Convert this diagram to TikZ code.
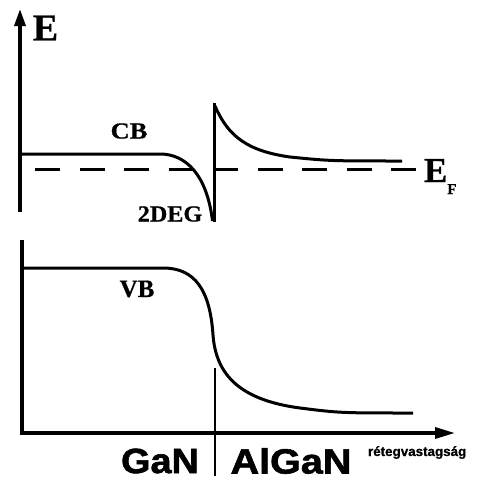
\documentclass[tikz,border=0pt]{standalone}
\usepackage{fontspec}
\setmainfont{Liberation Serif}[BoldFeatures={FakeBold=0.6}]
\newfontfamily\sansf{Liberation Sans}[BoldFeatures={FakeBold=1.6}]
\newfontfamily\smallsans{Liberation Sans}[BoldFeatures={FakeBold=0.8}]
\usetikzlibrary{arrows.meta}
\tikzset{
  band/.style={line width=3pt},
  axisline/.style={line width=3.4pt},
  lbl/.style={inner sep=0pt,outer sep=0pt},
}
\newcommand{\fs}[1]{\fontsize{#1}{#1}\selectfont}
\begin{document}
\begin{tikzpicture}[x=1pt,y=-1pt]
\useasboundingbox (0,0) rectangle (478,479);
% ---------- upper panel: conduction band ----------
\coordinate (topAxB) at (20,212);
\coordinate (topAxT) at (20,9);
\draw[axisline,-{Triangle[length=17pt,width=11pt]}] (topAxB) -- (topAxT);
\node[lbl] (Elab) at (45.5,28) {\fs{38}\bfseries E};
% CB
\coordinate (cbA) at (20,154);
\coordinate (cbB) at (160,154);
\coordinate (cbD) at (212.5,221);
\draw[band] (cbA) -- (cbB) .. controls (186,154) and (207,175) .. (cbD);
% interface wall
\coordinate (wallB) at (214,222);
\coordinate (wallT) at (214,103);
\draw[line width=3pt] (wallB) -- (wallT);
% AlGaN side CB
\coordinate (alA) at (215,106);
\coordinate (alM) at (290,157);
\coordinate (alE) at (402,161);
\draw[band] (alA) .. controls (228,136) and (247,151) .. (alM) .. controls (330,161) .. (alE);
% Fermi level
\coordinate (efA) at (35,169);
\coordinate (efB) at (420,169);
\draw[band,dash pattern=on 25pt off 19.5pt] (efA) -- (efB);
\node[lbl,anchor=base west] (EF) at (424,182) {\fs{35}\bfseries E\raisebox{-12pt}{\fs{15}\bfseries F}};
\node[lbl] (CB) at (129,131) {\scalebox{1.15}[1]{\fs{23}\bfseries CB}};
\node[lbl] (DEG) at (170,214) {\scalebox{1.05}[1]{\fs{23}\bfseries 2DEG}};
% ---------- lower panel: valence band ----------
\coordinate (botAxT) at (22,240);
\coordinate (botO) at (22,433);
\coordinate (botAxR) at (455,433);
\draw[axisline,-{Triangle[length=20pt,width=11pt]}] (botAxT) -- (botO) -- (botAxR);
\coordinate (vbA) at (22,268);
\coordinate (vbB) at (163,268);
\coordinate (vbM) at (213,335);
\coordinate (vbN) at (300,408);
\coordinate (vbE) at (413,413);
\draw[band] (vbA) -- (vbB) .. controls (195,268) and (210,290) .. (vbM)
  .. controls (216,375) and (240,400) .. (vbN) .. controls (340,413) .. (vbE);
\node[lbl] (VB) at (137,289) {\fs{25}\bfseries VB};
% interface marker
\coordinate (ifT) at (215,368);
\coordinate (ifB) at (215,476);
\draw[line width=1.4pt] (ifT) -- (ifB);
\node[lbl] (GaN) at (160,461) {\scalebox{1.08}[1]{\sansf\fs{35}\bfseries GaN}};
\node[lbl] (AlGaN) at (291,461) {\scalebox{1.13}[1]{\sansf\fs{35}\bfseries AlGaN}};
\node[lbl,anchor=base west] (xlab) at (368,456) {\smallsans\fs{13.4}\bfseries rétegvastagság};
\end{tikzpicture}
\end{document}
